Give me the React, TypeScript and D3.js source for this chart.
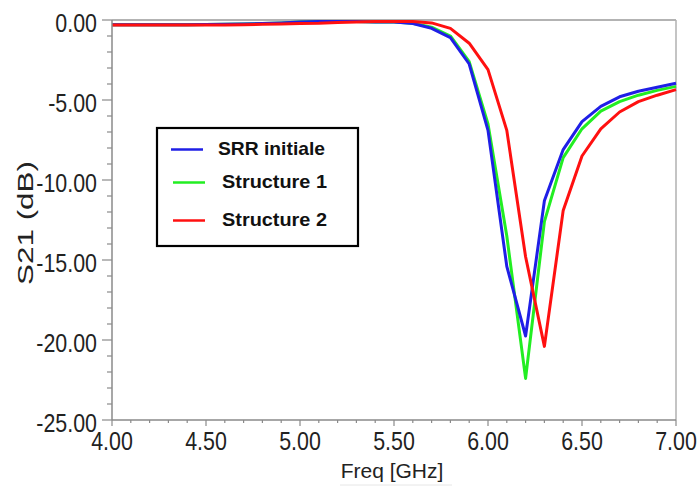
import React from "react";
import * as d3 from "d3";

const freq = [4.0, 4.1, 4.2, 4.3, 4.4, 4.5, 4.6, 4.7, 4.8, 4.9, 5.0, 5.1, 5.2, 5.3, 5.4, 5.5, 5.6, 5.7, 5.8, 5.9, 6.0, 6.1, 6.2, 6.3, 6.4, 6.5, 6.6, 6.7, 6.8, 6.9, 7.0];
const srrInitiale = [-0.30, -0.30, -0.30, -0.30, -0.29, -0.28, -0.27, -0.25, -0.22, -0.18, -0.12, -0.10, -0.09, -0.10, -0.12, -0.13, -0.22, -0.52, -1.10, -2.75, -6.90, -15.40, -19.75, -11.30, -8.10, -6.35, -5.40, -4.80, -4.45, -4.20, -3.95];
const structure1 = [-0.30, -0.30, -0.30, -0.30, -0.29, -0.28, -0.27, -0.25, -0.22, -0.18, -0.12, -0.10, -0.09, -0.10, -0.12, -0.13, -0.20, -0.45, -1.00, -2.60, -6.50, -13.50, -22.40, -12.60, -8.60, -6.80, -5.70, -5.10, -4.70, -4.40, -4.15];
const structure2 = [-0.32, -0.32, -0.32, -0.32, -0.32, -0.32, -0.32, -0.30, -0.27, -0.25, -0.22, -0.20, -0.15, -0.12, -0.10, -0.10, -0.10, -0.18, -0.52, -1.45, -3.10, -6.90, -14.80, -20.40, -11.90, -8.50, -6.80, -5.75, -5.10, -4.70, -4.35];

const seriesNames = ["SRR initiale", "Structure 1", "Structure 2"];
const seriesColors = ["#1f1fe6", "#22ee22", "#ff1010"];
const seriesValues = [srrInitiale, structure1, structure2];
const drawOrder = [1, 0, 2];

const xTicks = [4.0, 4.5, 5.0, 5.5, 6.0, 6.5, 7.0];
const yTicks = [0, -5, -10, -15, -20, -25];
const xMinor = d3.range(40, 71).map((v) => v / 10);
const yMinor = d3.range(0, 26).map((v) => -v);

export default function App() {
  const left = 112, right = 676, top = 20, bottom = 420;
  const x = d3.scaleLinear().domain([4, 7]).range([left, right]);
  const y = d3.scaleLinear().domain([0, -25]).range([top, bottom]);
  const line = (vals: number[]) =>
    d3.line<number>().x((_, i) => x(freq[i])).y((d) => y(d))(vals) || "";

  const axisColor = "#8a8a8a";
  const tickFont = "'Liberation Sans', Arial, sans-serif";

  return (
    <svg
      width={699}
      height={486}
      style={{ position: "absolute", left: 0, top: 0, background: "#fff" }}
    >
      <rect x={0} y={0} width={699} height={486} fill="#fff" />
      {/* frame top/right */}
      <line x1={left} x2={right} y1={top} y2={top} stroke="#9a9a9a" strokeWidth={1.5} />
      <line x1={right} x2={right} y1={top} y2={bottom} stroke="#b0b0b0" strokeWidth={1.5} />

      {/* series */}
      {drawOrder.map((k) => (
        <path
          key={k}
          d={line(seriesValues[k])}
          fill="none"
          stroke={seriesColors[k]}
          strokeWidth={3}
          strokeLinejoin="round"
        />
      ))}

      {/* axes */}
      <line x1={left} x2={left} y1={top} y2={bottom} stroke={axisColor} strokeWidth={1.5} />
      <line x1={left} x2={right} y1={bottom} y2={bottom} stroke={axisColor} strokeWidth={1.5} />
      {yMinor.map((v) => (
        <line key={"ym" + v} x1={left - (v % 5 === 0 ? 10 : 5)} x2={left} y1={y(v)} y2={y(v)} stroke={axisColor} strokeWidth={1.2} />
      ))}
      {xMinor.map((v) => {
        const major = xTicks.some((t) => Math.abs(t - v) < 1e-6);
        return (
          <line key={"xm" + v} x1={x(v)} x2={x(v)} y1={bottom} y2={bottom + (major ? 6 : 3)} stroke={axisColor} strokeWidth={1.2} />
        );
      })}
      {yTicks.map((v) => (
        <g key={"yl" + v} transform={`translate(97,${y(v) + 11.7}) scale(0.84,1)`}>
          <text x={0} y={0} textAnchor="end" fontFamily={tickFont} fontSize={25.5} fill="#222">
            {v.toFixed(2)}
          </text>
        </g>
      ))}
      {xTicks.map((v) => (
        <g key={"xl" + v} transform={`translate(${x(v)},450) scale(0.84,1)`}>
          <text x={0} y={0} textAnchor="middle" fontFamily={tickFont} fontSize={25.5} fill="#222">
            {v.toFixed(2)}
          </text>
        </g>
      ))}

      {/* axis titles */}
      <text
        x={392}
        y={478}
        textAnchor="middle"
        fontFamily={tickFont}
        fontSize={21}
        fill="#222"
      >
        Freq [GHz]
      </text>
      <line x1={340} x2={452} y1={485} y2={485} stroke="#e6e6e6" strokeWidth={1} />
      <text
        transform="translate(33,223) rotate(-90)"
        textAnchor="middle"
        fontFamily={tickFont}
        fontSize={22}
        fill="#222"
        textLength={124}
        lengthAdjust="spacingAndGlyphs"
      >
        S21 (dB)
      </text>

      {/* legend */}
      <rect x={157} y={128} width={201} height={118} fill="#fff" stroke="#000" strokeWidth={2.2} />
      {seriesNames.map((name, i) => {
        const ly = [149.5, 182.5, 220.5][i];
        const lx1 = i === 0 ? 171 : 173;
        const tx = i === 0 ? 218 : 222;
        const tw = i === 0 ? 107 : 105;
        return (
          <g key={name}>
            <line x1={lx1} x2={lx1 + 32} y1={ly} y2={ly} stroke={seriesColors[i]} strokeWidth={2.5} />
            <text
              x={tx}
              y={ly + 5.5}
              fontFamily={tickFont}
              fontWeight="bold"
              fontSize={19}
              fill="#111"
              textLength={tw}
              lengthAdjust="spacingAndGlyphs"
            >
              {name}
            </text>
          </g>
        );
      })}
    </svg>
  );
}
